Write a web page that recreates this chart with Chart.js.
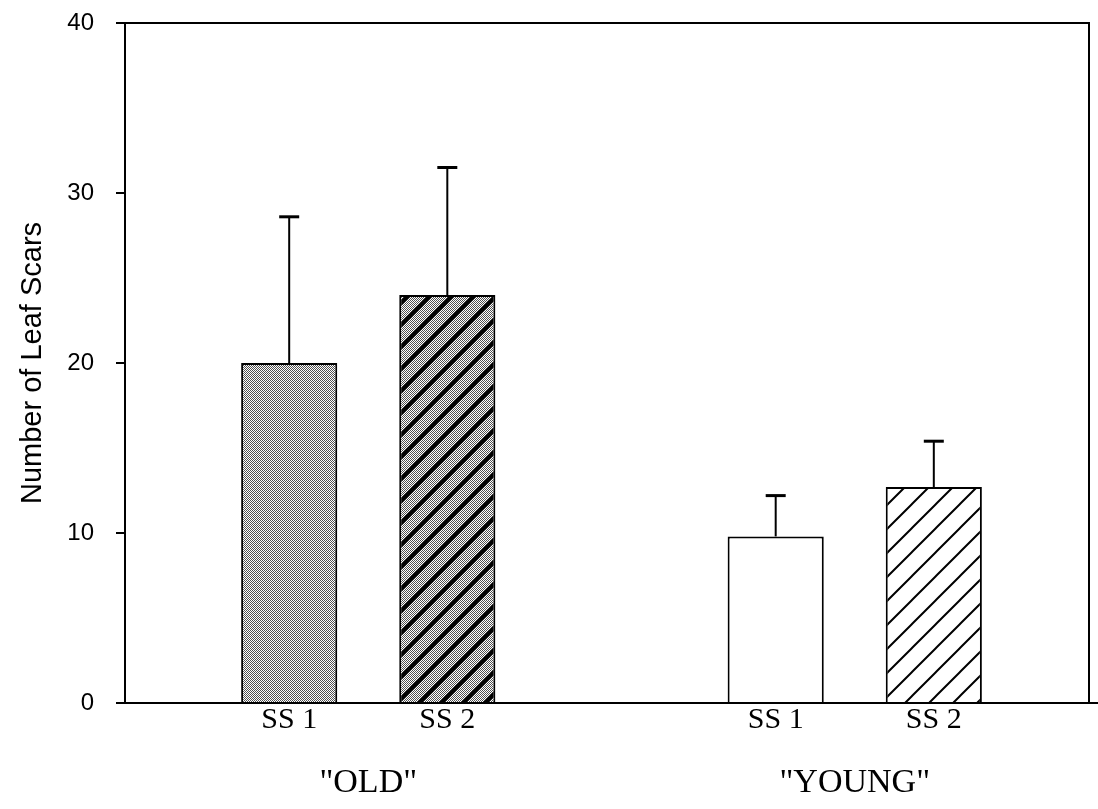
<!DOCTYPE html>
<html>
<head>
<meta charset="utf-8">
<script src="https://cdn.jsdelivr.net/npm/chart.js@4"></script>
<style>
html,body{margin:0;padding:0;background:#fff;}
#wrap{width:1098px;height:809px;}
</style>
</head>
<body>
<div id="wrap"><canvas id="c" width="1098" height="809"></canvas></div>
<script>
// ---- data ----
const groups = ['"OLD"', '"YOUNG"'];
const seriesNames = ['SS 1', 'SS 2'];
const ss1Means = [20.0, 9.8];
const ss1Upper = [28.6, 12.2];
const ss2Means = [24.0, 12.7];
const ss2Upper = [31.5, 15.4];
const yTicks = [0, 10, 20, 30, 40];
const yTitle = 'Number of Leaf Scars';

// ---- patterns ----
function dotTile(ctx, w, h) {
  ctx.fillStyle = '#fff';
  ctx.fillRect(0, 0, w, h);
  ctx.fillStyle = '#505050';
  for (let i = 0; i < w; i++) for (let j = 0; j < h; j++) if ((i + j) % 2 === 0) ctx.fillRect(i, j, 1, 1);
}
function makeDots() {
  const c = document.createElement('canvas'); c.width = 4; c.height = 4;
  const x = c.getContext('2d'); dotTile(x, 4, 4);
  return x.createPattern(c, 'repeat');
}
function makeHatch(s, lw, dotted) {
  const c = document.createElement('canvas'); c.width = s; c.height = s;
  const x = c.getContext('2d');
  if (dotted) dotTile(x, s, s); else { x.fillStyle = '#fff'; x.fillRect(0, 0, s, s); }
  x.strokeStyle = '#000'; x.lineWidth = lw; x.lineCap = 'butt';
  x.beginPath();
  x.moveTo(-s / 2, s / 2); x.lineTo(s / 2, -s / 2);
  x.moveTo(-s / 2, 3 * s / 2); x.lineTo(3 * s / 2, -s / 2);
  x.moveTo(s / 2, 3 * s / 2); x.lineTo(3 * s / 2, s / 2);
  x.stroke();
  return x.createPattern(c, 'repeat');
}
const dots = makeDots();
const darkHatch = makeHatch(22, 4, true);
const lightHatch = makeHatch(24, 2, false);

const SERIF = '"Liberation Serif", "Times New Roman", serif';
Chart.defaults.font.family = 'Arial, "Liberation Sans", sans-serif';
Chart.defaults.color = '#000';

const extras = {
  id: 'extras',
  afterDraw(chart) {
    const ctx = chart.ctx, y = chart.scales.y, a = chart.chartArea;
    chart.data.datasets.forEach((ds, di) => {
      const meta = chart.getDatasetMeta(di);
      meta.data.forEach((bar, i) => {
        const top = y.getPixelForValue(ds.upper[i]);
        ctx.save();
        ctx.strokeStyle = '#000';
        ctx.lineWidth = 2;
        ctx.beginPath(); ctx.moveTo(bar.x, bar.y); ctx.lineTo(bar.x, top); ctx.stroke();
        ctx.lineWidth = 3;
        ctx.beginPath(); ctx.moveTo(bar.x - 10, top); ctx.lineTo(bar.x + 10, top); ctx.stroke();
        ctx.font = '30px ' + SERIF;
        ctx.fillStyle = '#000'; ctx.textAlign = 'center'; ctx.textBaseline = 'middle';
        ctx.fillText(ds.label, bar.x, a.bottom + 17);
        ctx.restore();
      });
    });
    ctx.save();
    ctx.strokeStyle = '#000'; ctx.lineWidth = 2;
    ctx.beginPath();
    ctx.moveTo(a.left, a.top); ctx.lineTo(a.right - 9, a.top); ctx.lineTo(a.right - 9, a.bottom);
    ctx.stroke();
    ctx.restore();
  }
};

new Chart(document.getElementById('c'), {
  type: 'bar',
  data: {
    labels: groups,
    datasets: [
      { label: seriesNames[0], data: ss1Means, upper: ss1Upper, backgroundColor: [dots, '#ffffff'], borderColor: '#000', borderWidth: 2, borderSkipped: 'bottom' },
      { label: seriesNames[1], data: ss2Means, upper: ss2Upper, backgroundColor: [darkHatch, lightHatch], borderColor: '#000', borderWidth: 2, borderSkipped: 'bottom' }
    ]
  },
  options: {
    responsive: false,
    animation: false,
    layout: { padding: { top: 23, right: 0, bottom: 0, left: 0 } },
    datasets: { bar: { categoryPercentage: 0.65, barPercentage: 0.608 } },
    plugins: { legend: { display: false }, tooltip: { enabled: false } },
    scales: {
      x: {
        grid: { display: false, drawTicks: false },
        border: { display: true, color: '#000', width: 2 },
        ticks: { font: { family: SERIF, size: 34 }, padding: 60, color: '#000' },
        afterFit(s) { s.height = 106; }
      },
      y: {
        min: yTicks[0], max: yTicks[yTicks.length - 1],
        afterBuildTicks(s) { s.ticks = yTicks.map(v => ({ value: v })); },
        grid: { display: true, drawOnChartArea: false, drawTicks: true, tickLength: 9, color: '#000', lineWidth: 2 },
        border: { display: true, color: '#000', width: 2 },
        ticks: { font: { size: 24 }, padding: 22, color: '#000' },
        title: { display: true, text: yTitle, font: { size: 29 }, color: '#000', padding: { top: 16, bottom: 0 } },
        afterFit(s) { s.width = 125; s.paddingTop = 0; s.paddingBottom = 0; }
      }
    }
  },
  plugins: [extras]
});
</script>
</body>
</html>
